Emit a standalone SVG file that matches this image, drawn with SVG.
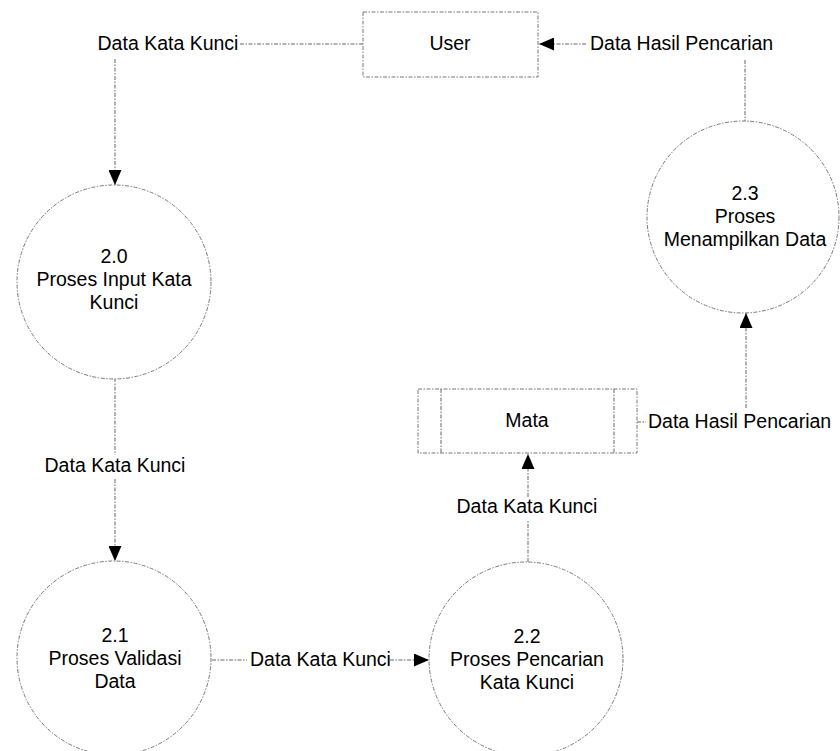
<svg xmlns="http://www.w3.org/2000/svg" width="840" height="751" viewBox="0 0 840 751">
<style>
  .shape { fill: #ffffff; stroke: #777777; stroke-width: 1; stroke-dasharray: 4 1.5 1.5 1.5; }
  .flow { fill: none; stroke: #666666; stroke-width: 1; stroke-dasharray: 4 1.5 1.5 1.5; }
  text { font-family: "Liberation Sans", Arial, sans-serif; font-size: 19.5px; fill: #000000; }
  .c { text-anchor: middle; }
</style>
<defs>
  <marker id="arrow" markerUnits="userSpaceOnUse" viewBox="0 0 15 13" markerWidth="15" markerHeight="13" refX="15" refY="6.5" orient="auto">
    <path d="M0,0 L15,6.5 L0,13 z" fill="#000000"/>
  </marker>
</defs>
<rect width="840" height="751" fill="#ffffff"/>

<g id="connectors">
  <path class="flow" d="M363,44 H240"/>
  <text x="168" y="50" class="c">Data Kata Kunci</text>
  <path class="flow" d="M115,59 V185" marker-end="url(#arrow)"/>

  <path class="flow" d="M586,44 H539" marker-end="url(#arrow)"/>
  <text x="590" y="50">Data Hasil Pencarian</text>
  <path class="flow" d="M745,60 V122"/>

  <path class="flow" d="M746,408 V313" marker-end="url(#arrow)"/>
  <path class="flow" d="M637,422 H646"/>
  <text x="648" y="428">Data Hasil Pencarian</text>

  <path class="flow" d="M528,562 V520"/>
  <text x="527" y="513" class="c">Data Kata Kunci</text>
  <path class="flow" d="M528,497 V454" marker-end="url(#arrow)"/>

  <path class="flow" d="M115,378 V455"/>
  <text x="115" y="472" class="c">Data Kata Kunci</text>
  <path class="flow" d="M115,479 V561" marker-end="url(#arrow)"/>

  <path class="flow" d="M212,660 H247"/>
  <text x="250" y="666">Data Kata Kunci</text>
  <path class="flow" d="M390,660 H429" marker-end="url(#arrow)"/>
</g>

<g id="user">
  <rect class="shape" x="363" y="12" width="175" height="65"/>
  <text x="450" y="50" class="c">User</text>
</g>

<g id="p20">
  <circle class="shape" cx="114" cy="282" r="97"/>
  <text x="114" y="263" class="c">2.0</text>
  <text x="114" y="286" class="c">Proses Input Kata</text>
  <text x="114" y="309" class="c">Kunci</text>
</g>

<g id="p21">
  <circle class="shape" cx="114" cy="658" r="97"/>
  <text x="115" y="642" class="c">2.1</text>
  <text x="115" y="665" class="c">Proses Validasi</text>
  <text x="115" y="688" class="c">Data</text>
</g>

<g id="p22">
  <circle class="shape" cx="526" cy="659" r="97"/>
  <text x="527" y="643" class="c">2.2</text>
  <text x="527" y="666" class="c">Proses Pencarian</text>
  <text x="527" y="689" class="c">Kata Kunci</text>
</g>

<g id="p23">
  <circle class="shape" cx="743" cy="217" r="96"/>
  <text x="745" y="200" class="c">2.3</text>
  <text x="745" y="223" class="c">Proses</text>
  <text x="745" y="246" class="c">Menampilkan Data</text>
</g>

<g id="store-mata">
  <rect class="shape" x="418" y="389" width="219" height="64"/>
  <path class="flow" d="M441,389 V453 M614,389 V453"/>
  <text x="527" y="427" class="c">Mata</text>
</g>
</svg>
